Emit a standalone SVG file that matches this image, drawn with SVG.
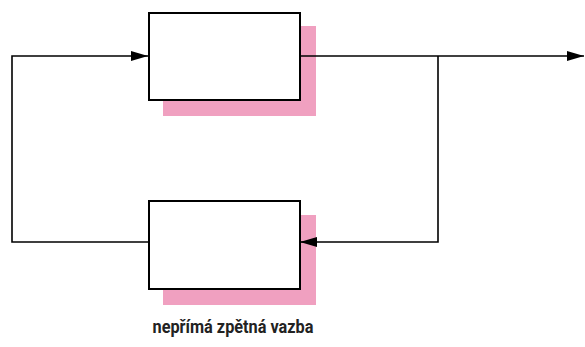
<svg xmlns="http://www.w3.org/2000/svg" width="585" height="347" viewBox="0 0 585 347">
<style>
.shadow{fill:#f0a0c0;stroke:none}
.box{fill:#fff;stroke:#000;stroke-width:2}
.conn{fill:none;stroke:#000;stroke-width:1.6}
.lbl{font-family:"Roboto","Liberation Sans",sans-serif;font-weight:bold;font-size:19px;fill:#222}
</style>
<defs>
<marker id="ah" markerWidth="18" markerHeight="10" refX="17" refY="5" orient="auto" markerUnits="userSpaceOnUse">
<path d="M0,0 L17,5 L0,10 Z" fill="#000"/>
</marker>
</defs>
<rect width="585" height="347" fill="#fff"/>
<g id="node-top">
<rect class="shadow" x="163" y="26" width="153" height="90"/>
<rect class="box" x="149" y="13" width="151" height="87"/>
</g>
<g id="node-bottom">
<rect class="shadow" x="163" y="215" width="153" height="90"/>
<rect class="box" x="149" y="201" width="151" height="88"/>
</g>
<g id="connectors">
<path class="conn" d="M148,242 H12 V56 H148" marker-end="url(#ah)"/>
<path class="conn" d="M300,56 H584" marker-end="url(#ah)"/>
<path class="conn" d="M438,56 V242 H300" marker-end="url(#ah)"/>
</g>
<text class="lbl" x="233" y="333" text-anchor="middle" textLength="161" lengthAdjust="spacingAndGlyphs">nepřímá zpětná vazba</text>
</svg>
